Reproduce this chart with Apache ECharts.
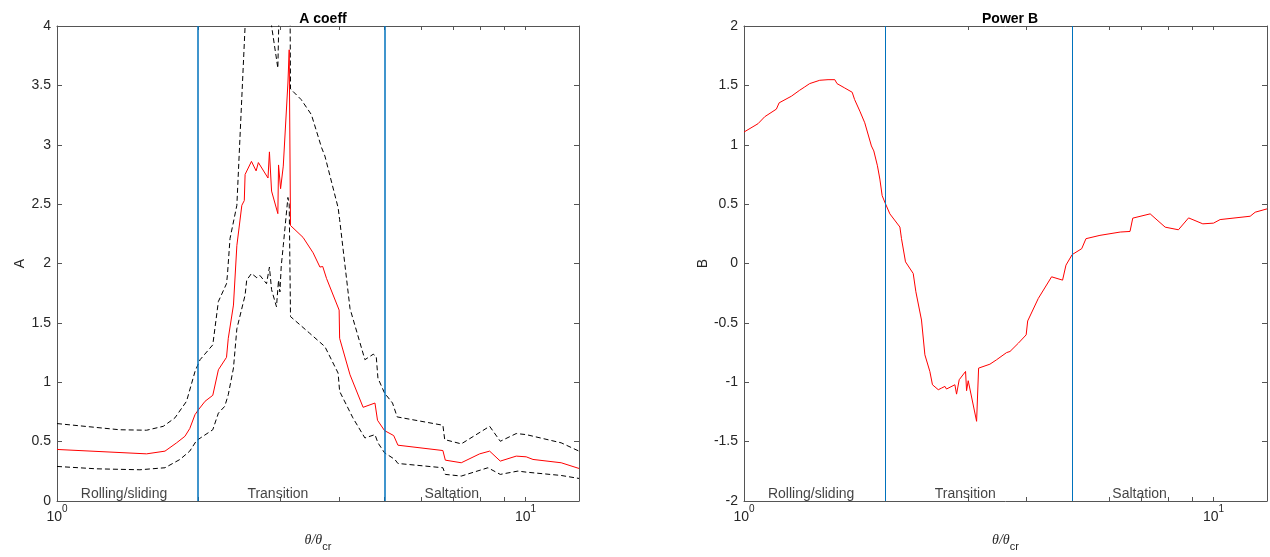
<!DOCTYPE html>
<html>
<head>
<meta charset="utf-8">
<script src="https://cdn.jsdelivr.net/npm/echarts@6/dist/echarts.min.js"></script>
<style>
html,body{margin:0;padding:0;background:#fff;}
#c{width:1270px;height:557px;}
</style>
</head>
<body>
<div id="c"></div>
<script>
// ---------- DATA ----------
const titleA = 'A coeff';
const titleB = 'Power B';
const boundaries = [2, 5];
const regionNames = ['Rolling/sliding', 'Transition', 'Saltation'];
const regionX = [1.39, 2.96, 6.96];
const xTickValues = [1, 2, 3, 4, 5, 6, 7, 8, 9, 10];
const xLabelValues = [1, 10];

// A coefficient (red) : [theta/theta_cr, A]
const aMean = [
  [1.00,0.434],[1.553,0.397],[1.70,0.42],[1.80,0.49],[1.875,0.545],[1.92,0.61],[1.97,0.727],
  [2.005,0.77],[2.07,0.84],[2.15,0.89],[2.21,1.105],[2.30,1.21],[2.32,1.37],[2.38,1.65],
  [2.42,2.15],[2.48,2.49],[2.51,2.53],[2.52,2.75],[2.60,2.86],[2.66,2.78],[2.69,2.85],
  [2.82,2.72],[2.84,2.94],[2.87,2.61],[2.96,2.42],[2.97,2.83],[3.00,2.63],[3.04,2.82],
  [3.11,3.52],[3.13,3.80],[3.15,2.32],[3.35,2.22],[3.52,2.09],[3.64,1.97],[3.69,1.975],
  [3.76,1.874],[4.00,1.608],[4.01,1.37],[4.22,1.063],[4.50,0.789],[4.77,0.825],[4.83,0.68],
  [5.00,0.593],[5.23,0.551],[5.34,0.47],[6.66,0.425],[6.74,0.344],[7.29,0.322],[7.98,0.397],
  [8.38,0.42],[8.83,0.336],[9.55,0.378],[10.03,0.372],[10.37,0.35],[11.91,0.322],[13.0,0.274]
];
// upper bound (black dashed)
const aUpper = [
  [1.00,0.652],[1.36,0.60],[1.553,0.596],[1.686,0.629],[1.785,0.70],[1.89,0.84],[1.97,1.09],
  [2.02,1.19],[2.15,1.315],[2.21,1.68],[2.30,1.83],[2.31,1.90],[2.34,2.21],[2.42,2.49],
  [2.52,4.0],[2.60,4.45],[2.70,4.40],[2.80,4.30],[2.84,4.55],[2.87,4.0],[2.96,3.645],
  [2.98,4.2],[3.04,4.4],[3.11,5.1],[3.13,5.4],[3.15,3.47],[3.18,3.464],[3.32,3.38],
  [3.49,3.254],[3.67,2.975],[3.73,2.905],[3.98,2.47],[4.01,2.37],[4.22,1.62],[4.54,1.19],
  [4.73,1.236],[4.80,1.217],[4.84,1.035],[5.00,0.909],[5.20,0.825],[5.32,0.708],[6.66,0.638],
  [6.72,0.517],[7.29,0.481],[8.38,0.629],[8.83,0.503],[9.55,0.568],[10.03,0.559],[11.91,0.49],
  [13.0,0.42]
];
// lower bound (black dashed)
const aLower = [
  [1.00,0.291],[1.215,0.271],[1.503,0.263],[1.70,0.28],[1.83,0.35],[1.92,0.42],[1.985,0.509],
  [2.15,0.60],[2.21,0.74],[2.28,0.797],[2.32,0.895],[2.38,1.12],[2.42,1.45],[2.52,1.734],
  [2.54,1.86],[2.60,1.916],[2.67,1.88],[2.71,1.90],[2.80,1.83],[2.84,1.97],[2.87,1.78],
  [2.94,1.636],[2.97,1.86],[2.99,1.76],[3.01,1.98],[3.04,2.15],[3.11,2.556],[3.13,2.50],
  [3.15,1.553],[3.46,1.413],[3.73,1.30],[3.98,1.077],[4.01,0.923],[4.28,0.70],[4.54,0.531],
  [4.77,0.559],[4.84,0.49],[5.00,0.406],[5.26,0.35],[5.34,0.316],[6.66,0.28],[6.74,0.224],
  [7.29,0.21],[8.31,0.28],[8.83,0.224],[9.63,0.252],[10.03,0.243],[11.91,0.215],[13.0,0.19]
];
// Power B (red)
const bPower = [
  [1.00,1.107],[1.071,1.177],[1.107,1.236],[1.172,1.30],[1.188,1.353],[1.262,1.409],
  [1.314,1.459],[1.347,1.487],[1.38,1.515],[1.45,1.543],[1.51,1.548],[1.561,1.548],
  [1.578,1.515],[1.639,1.478],[1.70,1.442],[1.72,1.381],[1.765,1.283],[1.808,1.185],
  [1.868,0.99],[1.89,0.948],[1.924,0.823],[1.947,0.711],[1.969,0.572],[1.998,0.51],
  [2.045,0.418],[2.148,0.307],[2.165,0.209],[2.208,0.014],[2.293,-0.084],[2.323,-0.238],
  [2.388,-0.476],[2.428,-0.769],[2.488,-0.909],[2.52,-1.021],[2.593,-1.063],[2.635,-1.049],
  [2.679,-1.035],[2.70,-1.057],[2.813,-1.021],[2.836,-1.10],[2.873,-0.979],[2.964,-0.909],
  [2.979,-1.071],[3.003,-0.987],[3.129,-1.329],[3.16,-0.881],[3.34,-0.848],[3.45,-0.811],
  [3.625,-0.75],[3.686,-0.741],[3.84,-0.671],[3.99,-0.601],[4.02,-0.484],[4.235,-0.294],
  [4.52,-0.112],[4.77,-0.14],[4.85,-0.014],[5.0,0.075],[5.24,0.125],[5.35,0.209],
  [5.73,0.237],[6.33,0.265],[6.64,0.27],[6.73,0.382],[7.33,0.418],[7.89,0.306],[8.42,0.284],
  [8.85,0.384],[9.49,0.334],[10.0,0.34],[10.33,0.37],[11.97,0.398],[12.27,0.432],[13.0,0.46]
];
const aRange = [0, 4];
const bRange = [-2, 2];
const xRange = [1, 13];

// ---------- STYLE ----------
const FONT = 'Liberation Sans, Arial, Helvetica, sans-serif';
const TXT = '#262626';
const AX = '#555555';
const BLUE = '#0072BD';

function xAxisDef(grid, pos, showLabels) {
  return {
    type: 'log', logBase: 10, gridIndex: grid, position: pos,
    min: xRange[0], max: xRange[1],
    splitLine: {show: false},
    axisLine: {show: true, onZero: false, lineStyle: {color: AX, width: 1}},
    axisTick: {show: true, inside: true, length: 4, customValues: xTickValues, lineStyle: {color: AX}},
    minorTick: {show: false},
    axisLabel: showLabels ? {
      show: true, customValues: xLabelValues, margin: 3,
      formatter: function (v) {
        const e = Math.round(Math.log10(v));
        return '{b|10}{s|' + e + '}';
      },
      rich: {
        b: {fontSize: 14, fontFamily: FONT, color: TXT, lineHeight: 20, verticalAlign: 'bottom'},
        s: {fontSize: 10, fontFamily: FONT, color: TXT, lineHeight: 20, verticalAlign: 'top'}
      }
    } : {show: false},
    name: showLabels ? '{t|θ/θ}{s|cr}' : '',
    nameLocation: 'middle', nameGap: 32,
    nameTextStyle: {
      rich: {
        t: {fontSize: 14, fontFamily: 'Liberation Serif, Times New Roman, serif', fontStyle: 'italic', color: TXT, lineHeight: 19, verticalAlign: 'top'},
        s: {fontSize: 11, fontFamily: FONT, color: TXT, lineHeight: 19, verticalAlign: 'bottom'}
      }
    }
  };
}
function yAxisDef(grid, pos, range, showLabels, name) {
  return {
    type: 'value', gridIndex: grid, position: pos,
    min: range[0], max: range[1], interval: 0.5,
    splitLine: {show: false},
    axisLine: {show: true, onZero: false, lineStyle: {color: AX, width: 1}},
    axisTick: {show: true, inside: true, length: 5, lineStyle: {color: AX}},
    axisLabel: {show: showLabels, fontSize: 14, fontFamily: FONT, color: TXT, margin: 6},
    name: showLabels ? name : '',
    nameLocation: 'middle', nameGap: 30, nameRotate: 90,
    nameTextStyle: {fontSize: 14, fontFamily: FONT, color: TXT}
  };
}
function boundaryLines(width) {
  return {
    silent: true, symbol: ['none', 'none'],
    label: {show: false},
    lineStyle: {color: BLUE, width: width, type: 'solid'},
    data: boundaries.map(v => ({xAxis: v}))
  };
}
function regionSeries(xi, yi, yVal) {
  return {
    type: 'scatter', xAxisIndex: xi, yAxisIndex: yi, silent: true,
    symbolSize: 1, itemStyle: {color: 'rgba(0,0,0,0)'},
    label: {show: true, position: 'inside', formatter: p => p.data[2],
      fontSize: 14, fontFamily: FONT, color: '#111'},
    data: regionX.map((x, i) => [x, yVal, regionNames[i]])
  };
}
function lineSeries(xi, yi, data, color, dashed, extra) {
  return Object.assign({
    type: 'line', xAxisIndex: xi, yAxisIndex: yi, data: data,
    symbol: 'none', clip: true, animation: false, silent: true,
    lineStyle: {color: color, width: 1, type: dashed ? [5, 3] : 'solid'}
  }, extra || {});
}

const option = {
  animation: false,
  backgroundColor: '#ffffff',
  title: [
    {text: titleA, left: 318, top: 7, textAlign: 'center',
     textStyle: {fontSize: 14, fontWeight: 'bold', fontFamily: FONT, color: '#000'}},
    {text: titleB, left: 1005, top: 7, textAlign: 'center',
     textStyle: {fontSize: 14, fontWeight: 'bold', fontFamily: FONT, color: '#000'}}
  ],
  grid: [
    {left: 57, top: 26, width: 522, height: 477},
    {left: 744, top: 26, width: 523, height: 477}
  ],
  xAxis: [
    xAxisDef(0, 'bottom', true),
    xAxisDef(0, 'top', false),
    xAxisDef(1, 'bottom', true),
    xAxisDef(1, 'top', false)
  ],
  yAxis: [
    yAxisDef(0, 'left', aRange, true, 'A'),
    yAxisDef(0, 'right', aRange, false, ''),
    yAxisDef(1, 'left', bRange, true, 'B'),
    yAxisDef(1, 'right', bRange, false, '')
  ],
  series: [
    lineSeries(0, 0, aUpper, '#000000', true),
    lineSeries(0, 0, aLower, '#000000', true),
    lineSeries(0, 0, aMean, '#ff0000', false, {markLine: boundaryLines(1.5)}),
    regionSeries(0, 0, 0.06),
    lineSeries(2, 2, bPower, '#ff0000', false, {markLine: boundaryLines(1)}),
    regionSeries(2, 2, -1.94)
  ]
};

const chart = echarts.init(document.getElementById('c'), null, {renderer: 'canvas'});
chart.setOption(option);
</script>
</body>
</html>
